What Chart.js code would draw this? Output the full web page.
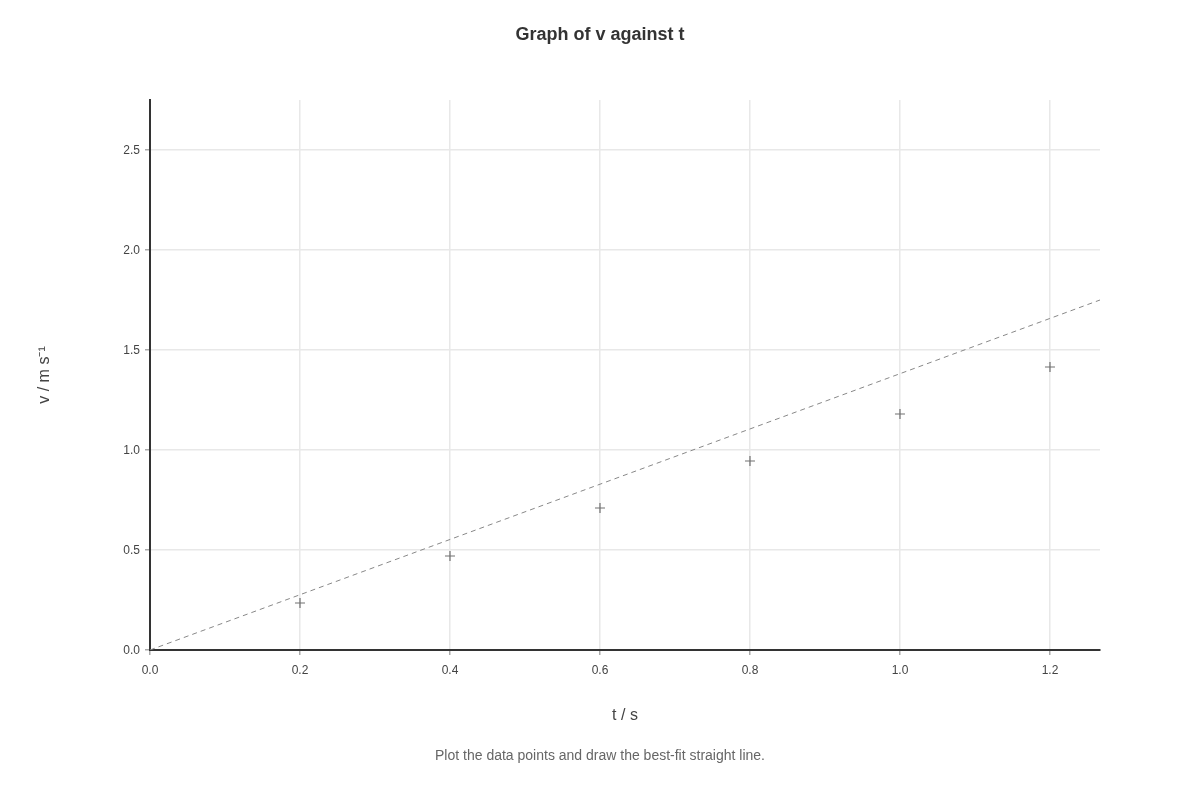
<!DOCTYPE html>
<html>
<head>
<meta charset="utf-8">
<script src="https://cdn.jsdelivr.net/npm/chart.js@4/dist/chart.umd.min.js"></script>
<style>
  html, body { margin: 0; padding: 0; background: #fff; }
  #wrap { width: 1200px; height: 800px; }
</style>
</head>
<body>
<div id="wrap"><canvas id="chart" width="1200" height="800"></canvas></div>
<script>
// measured values (t in s, v in m/s)
var timeValues = [0.2, 0.4, 0.6, 0.8, 1.0, 1.2];
var speedValues = [0.235, 0.47, 0.71, 0.945, 1.18, 1.415];

// dashed best-fit line, read at its two ends
var fitT = [0, 1.2667];
var fitV = [0, 1.75];

var xMax = 1.2667;
var yMax = 2.75;

var font = "'Liberation Sans', Arial, Helvetica, sans-serif";

var points = timeValues.map(function(t, i){ return {x: t, y: speedValues[i]}; });
var fitLine = fitT.map(function(t, i){ return {x: t, y: fitV[i]}; });

var gridOpts = { color: '#e8e8e8', lineWidth: 1.5, tickColor: '#aaa', tickWidth: 1.5, tickLength: 5 };

var ctx = document.getElementById('chart').getContext('2d');
var chart = new Chart(ctx, {
  type: 'scatter',
  data: {
    datasets: [{
      label: 'data',
      data: points,
      pointStyle: 'cross',
      pointRadius: 5,
      pointBorderWidth: 1.2,
      borderColor: '#707070',
      backgroundColor: '#707070',
      showLine: false
    }, {
      label: 'fit',
      data: fitLine,
      showLine: true,
      borderColor: '#888',
      borderWidth: 1,
      borderDash: [5, 4],
      pointRadius: 0,
      fill: false
    }]
  },
  options: {
    responsive: false,
    animation: false,
    layout: { padding: 0 },
    plugins: {
      legend: { display: false },
      tooltip: { enabled: false },
      title: {
        display: true,
        text: 'Graph of v against t',
        color: '#333',
        font: { family: font, size: 18, weight: 'bold' },
        padding: { top: 24.2, bottom: 54.2 }
      },
      subtitle: {
        display: true,
        position: 'bottom',
        text: 'Plot the data points and draw the best-fit straight line.',
        color: '#666',
        font: { family: font, size: 14 },
        padding: { top: 0, bottom: 35.6 }
      }
    },
    scales: {
      x: {
        type: 'linear',
        min: 0,
        max: xMax,
        afterFit: function(scale){ scale.height = 97.6; },
        ticks: {
          stepSize: 0.2,
          includeBounds: false,
          color: '#444',
          padding: 8,
          font: { family: font, size: 12 },
          callback: function(v){ return v.toFixed(1); }
        },
        grid: gridOpts,
        border: { color: '#333', width: 2 },
        title: {
          display: true,
          text: 't / s',
          color: '#444',
          font: { family: font, size: 16 },
          padding: { top: 0, bottom: 22 }
        }
      },
      y: {
        type: 'linear',
        min: 0,
        max: yMax,
        afterFit: function(scale){ scale.width = 150; },
        ticks: {
          stepSize: 0.5,
          includeBounds: false,
          color: '#444',
          padding: 5,
          labelOffset: 1,
          font: { family: font, size: 12 },
          callback: function(v){ return v.toFixed(1); }
        },
        grid: gridOpts,
        border: { color: '#333', width: 2 },
        title: {
          display: true,
          text: 'v / m s\u207B\u00B9',
          color: '#444',
          font: { family: font, size: 16 },
          padding: { top: 35.4, bottom: 0 }
        }
      },
      // empty right-hand spacer so the plot ends at x=1100
      yRight: {
        type: 'linear',
        position: 'right',
        min: 0,
        max: yMax,
        afterFit: function(scale){ scale.width = 100; },
        ticks: { display: false },
        grid: { display: false, drawOnChartArea: false },
        border: { display: false }
      }
    }
  }
});
</script>
</body>
</html>
